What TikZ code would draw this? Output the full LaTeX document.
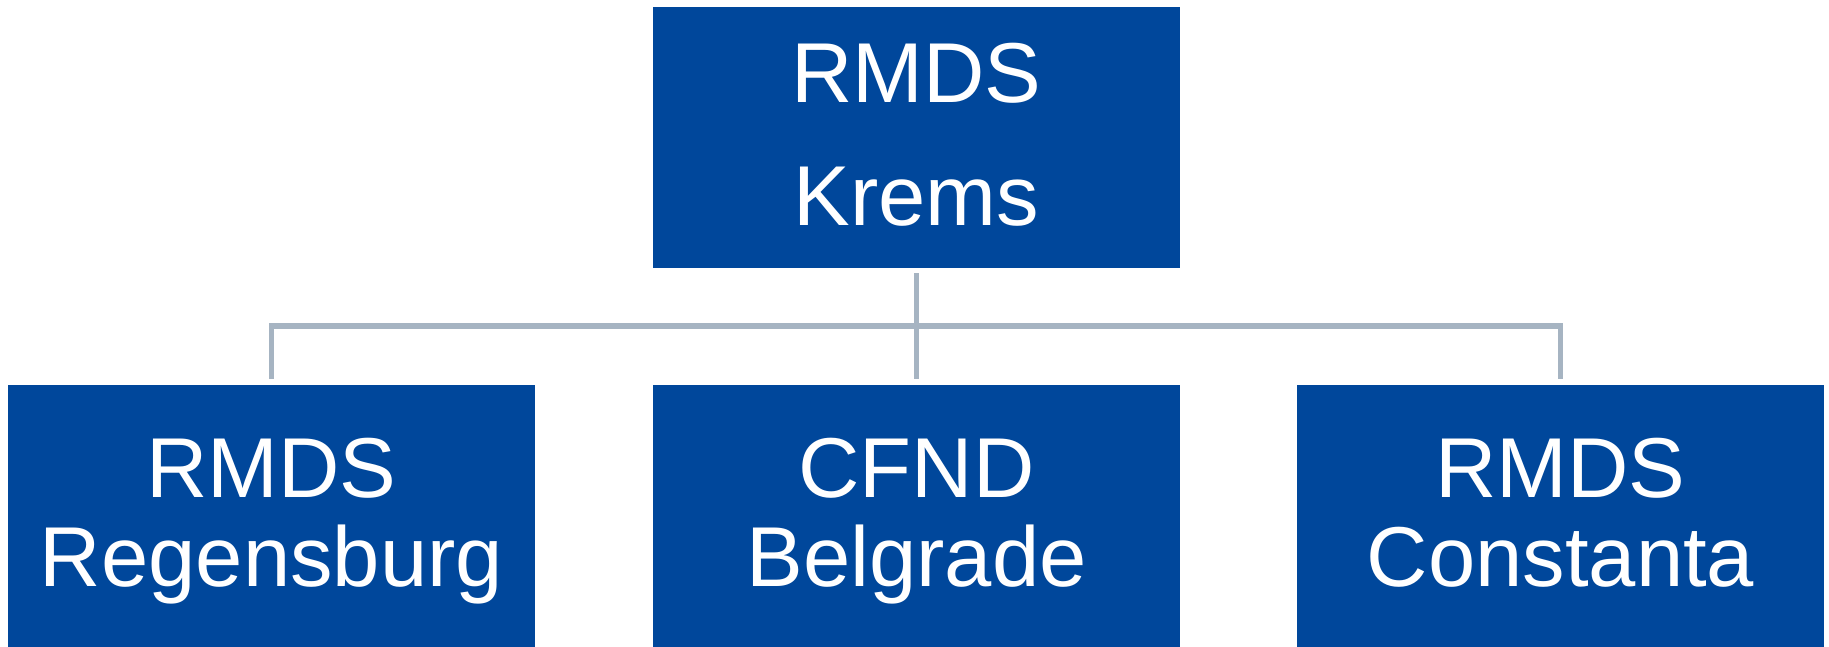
\documentclass[tikz,border=0pt]{standalone}
\usepackage{fontspec}
\setmainfont{Liberation Sans}
\definecolor{boxblue}{HTML}{00479B}
\definecolor{conngrey}{HTML}{A6B4C2}
\tikzset{
  orgbox/.style={fill=boxblue, draw=none, minimum width=527pt, inner sep=0pt, outer sep=0pt},
  toplbl/.style={text=white, align=center, inner sep=0pt, anchor=north, font=\fontsize{85}{123}\selectfont},
  botlbl/.style={text=white, align=center, inner sep=0pt, anchor=north, font=\fontsize{85}{89}\selectfont},
  conn/.style={draw=conngrey, line width=5.5pt, line join=miter}
}
\begin{document}
\begin{tikzpicture}[x=1pt,y=-1pt]
\useasboundingbox (0,0) rectangle (1829,646);
% boxes
\node[orgbox, minimum height=261pt] (krems) at (916.5,137.5) {};
\node[orgbox, minimum height=270pt] (reg) at (271.5,520) {};
\node[orgbox, minimum height=270pt] (bel) at (916.5,520) {};
\node[orgbox, minimum height=270pt] (con) at (1560.5,520) {};
% labels
\node[toplbl] (kremsT) at (916.5,42.5) {RMDS\\Krems};
\node[botlbl] (regT) at (271.5,438) {RMDS\\Regensburg};
\node[botlbl] (belT) at (916.5,438) {CFND\\Belgrade};
\node[botlbl] (conT) at (1560.5,438) {RMDS\\Constanta};
% connectors
\coordinate (bus) at (916.5,326);
\draw[conn] ([yshift=-5pt]krems.south) -- ([yshift=6pt]bel.north);
\draw[conn] ([yshift=6pt]reg.north) -- (reg.north |- bus) -- (con.north |- bus) -- ([yshift=6pt]con.north);
\end{tikzpicture}
\end{document}
